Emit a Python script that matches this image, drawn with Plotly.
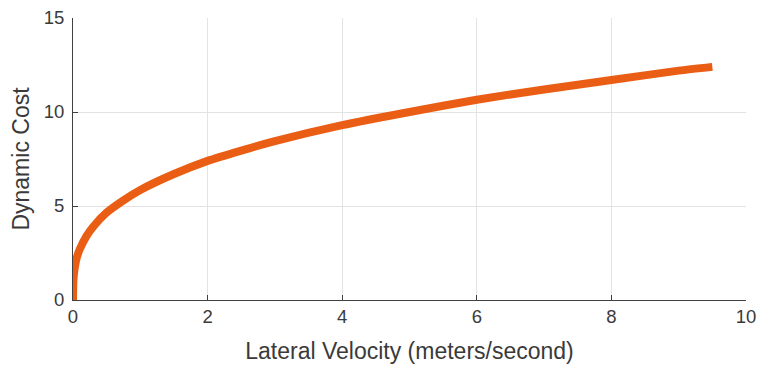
import plotly.graph_objects as go

# Lateral velocity (m/s) and the corresponding dynamic cost
velocity = [0, 0.005, 0.01, 0.03, 0.06, 0.1, 0.2, 0.3, 0.5, 0.75, 1.0, 1.5, 2.0, 2.5,
            3.0, 4.0, 5.0, 6.0, 7.0, 8.0, 9.0, 9.5]
cost = [0, 1.0, 1.25, 1.8, 2.3, 2.7, 3.4, 3.9, 4.65, 5.3, 5.85, 6.7, 7.4, 7.95,
        8.45, 9.3, 10.0, 10.65, 11.2, 11.7, 12.2, 12.4]

x_ticks = [0, 2, 4, 6, 8, 10]
y_ticks = [0, 5, 10, 15]

fig = go.Figure()
fig.add_trace(go.Scatter(
    x=velocity, y=cost, mode="lines",
    line=dict(color="#E95E14", width=8, shape="spline", smoothing=0.6),
    hoverinfo="skip", showlegend=False,
))

family = "Liberation Sans, Arial, sans-serif"
tick_font = dict(family=family, size=18.5, color="#3a3a3a")
title_font = dict(family=family, size=23, color="#3a3a3a")

fig.update_layout(
    width=760, height=367,
    margin=dict(l=73, r=14, t=18, b=67, autoexpand=False),
    paper_bgcolor="white", plot_bgcolor="white",
    font=tick_font,
    xaxis=dict(
        range=[0, 10], tickvals=x_ticks, ticks="inside", ticklen=5,
        tickcolor="#404040", showline=True, linecolor="#404040", linewidth=1,
        showgrid=True, gridcolor="#e3e3e3", gridwidth=1, zeroline=False,
        tickfont=tick_font, automargin=False,
        title=dict(text="Lateral Velocity (meters/second)", font=title_font, standoff=16),
    ),
    yaxis=dict(
        range=[0, 15], tickvals=y_ticks, ticks="inside", ticklen=5,
        tickcolor="#404040", showline=True, linecolor="#404040", linewidth=1,
        showgrid=True, gridcolor="#e3e3e3", gridwidth=1, zeroline=False,
        tickfont=tick_font, automargin=False, ticklabelstandoff=4,
        title=dict(text="Dynamic Cost", font=title_font, standoff=7),
    ),
)

fig.write_html("out.html")
